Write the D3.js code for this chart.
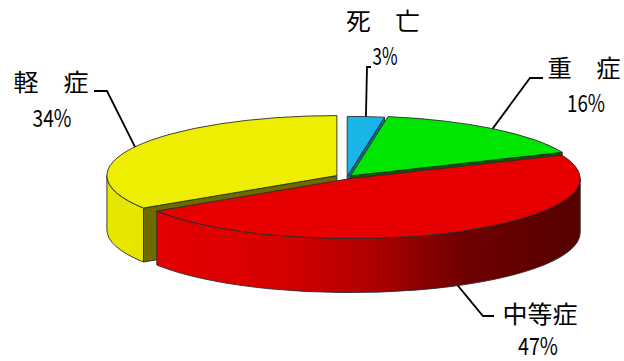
<!DOCTYPE html>
<html>
<head>
<meta charset="utf-8">
<script src="https://cdn.jsdelivr.net/npm/d3@7"></script>
<style>
body { margin: 0; background: #fff; }
</style>
</head>
<body>
<div id="chart"></div>
<script>
// data, clockwise from 12 o'clock
categories = ['死　亡', '重　症', '中等症', '軽　症'];
values = [2.6, 16.0, 47.3, 34.1];

// styles
topColors = ['#19b5e6', '#00e600', '#e80000', '#eeee00'];
faceColors = ['#0b6f8f', '#005c00', '#5a0000', '#6b6b00'];
explode = [0.01, 0.025, 0.03, 0.05];

// label layout: name center, percent center, leader elbow and end
labelLayout = [
    {nx: 383, ny: 30, nw: 74, px: 385, py: 65, pw: 25, elbow: [367, 67], end: [371, 67], bottom: false},
    {nx: 584, ny: 77, nw: 73, px: 586, py: 112, pw: 38, elbow: [530, 78], end: [543, 78], bottom: false},
    {nx: 540, ny: 323, nw: 75, px: 538, py: 355, pw: 40, elbow: [483, 316], end: [494, 316], bottom: true},
    {nx: 51, ny: 91, nw: 75, px: 52, py: 127, pw: 39, elbow: [107, 91], end: [94, 91], bottom: false}
];

width = 624;
height = 361;
pieGeom = ({cx: 347, cy: 177, rx: 230, ry: 60, depth: 54});

const svg = d3.select('#chart').append('svg')
    .attr('width', width)
    .attr('height', height)
    .style('background', '#fff');

const slices = d3.pie().sort(null).value(d => d.value)(
    categories.map((c, i) => ({name: c, value: values[i], i: i}))
);

// explode offset along the slice middle
slices.forEach(s => {
    const mid = (s.startAngle + s.endAngle) / 2;
    s.mid = mid;
    s.ox = explode[s.index] * pieGeom.rx * Math.sin(mid);
    s.oy = -explode[s.index] * pieGeom.ry * Math.cos(mid);
});

rim = function(s, a, h) {
    return [pieGeom.cx + s.ox + pieGeom.rx * Math.sin(a),
            pieGeom.cy + s.oy - pieGeom.ry * Math.cos(a) + h];
};

vertex = function(s, h) {
    return [pieGeom.cx + s.ox, pieGeom.cy + s.oy + h];
};

arcTo = function(s, a0, a1, h, sweep) {
    const p = rim(s, sweep ? a1 : a0, h);
    const large = Math.abs(a1 - a0) > Math.PI ? 1 : 0;
    return `A${pieGeom.rx},${pieGeom.ry} 0 ${large} ${sweep} ${p[0]},${p[1]}`;
};

topPath = function(s) {
    return `M${vertex(s, 0)} L${rim(s, s.startAngle, 0)} ` +
        arcTo(s, s.startAngle, s.endAngle, 0, 1) + ' Z';
};

sidePath = function(s) {
    const lo = Math.max(s.startAngle, Math.PI / 2);
    const hi = Math.min(s.endAngle, Math.PI * 3 / 2);
    if (lo >= hi) return null;
    return `M${rim(s, lo, 0)} ` + arcTo(s, lo, hi, 0, 1) +
        ` L${rim(s, hi, pieGeom.depth)} ` + arcTo(s, lo, hi, pieGeom.depth, 0) + ' Z';
};

facePath = function(s, a) {
    return `M${vertex(s, 0)} L${rim(s, a, 0)} L${rim(s, a, pieGeom.depth)} L${vertex(s, pieGeom.depth)} Z`;
};

// gradient for the red wall
const grad = svg.append('defs').append('linearGradient')
    .attr('id', 'redSide')
    .attr('gradientUnits', 'userSpaceOnUse')
    .attr('x1', pieGeom.cx - pieGeom.rx).attr('x2', pieGeom.cx + pieGeom.rx)
    .attr('y1', 0).attr('y2', 0);
[['0%', '#e80000'], ['35%', '#d80000'], ['55%', '#b00000'], ['75%', '#700000'], ['100%', '#560000']]
    .forEach(d => grad.append('stop').attr('offset', d[0]).attr('stop-color', d[1]));

const outline = g => g
    .attr('stroke', '#2b2b2b')
    .attr('stroke-width', 0.9)
    .attr('stroke-linejoin', 'round');

// radial walls that face the viewer
const faces = [];
slices.forEach(s => {
    if (Math.sin(s.startAngle) < -1e-6) faces.push({s: s, a: s.startAngle});
    if (Math.sin(s.endAngle) > 1e-6) faces.push({s: s, a: s.endAngle});
});
svg.append('g').call(outline)
    .selectAll('path')
    .data(faces)
    .join('path')
    .attr('d', d => facePath(d.s, d.a))
    .attr('fill', d => faceColors[d.s.index]);

// outer walls
svg.append('g').call(outline)
    .selectAll('path')
    .data(slices.filter(s => sidePath(s)))
    .join('path')
    .attr('d', sidePath)
    .attr('fill', s => s.index === 2 ? 'url(#redSide)' : d3.color(topColors[s.index]).darker(0.1));

// tops
svg.append('g').call(outline)
    .selectAll('path')
    .data(slices)
    .join('path')
    .attr('d', topPath)
    .attr('fill', s => topColors[s.index]);

// leader lines
svg.append('g')
    .attr('fill', 'none')
    .attr('stroke', '#000')
    .attr('stroke-width', 1.8)
    .selectAll('path')
    .data(slices)
    .join('path')
    .attr('d', s => {
        const l = labelLayout[s.index];
        const p = rim(s, s.mid, l.bottom ? pieGeom.depth : 0);
        return d3.line()([p, l.elbow, l.end]);
    });

// labels
const labels = svg.append('g')
    .attr('font-family', '"Noto Sans CJK JP", "Noto Sans", sans-serif')
    .attr('font-size', 24)
    .attr('fill', '#000')
    .attr('text-anchor', 'middle')
    .selectAll('g')
    .data(slices)
    .join('g');

labels.append('text')
    .attr('x', s => labelLayout[s.index].nx)
    .attr('y', s => labelLayout[s.index].ny)
    .attr('textLength', s => labelLayout[s.index].nw)
    .attr('lengthAdjust', 'spacingAndGlyphs')
    .text(s => s.data.name);

labels.append('text')
    .attr('x', s => labelLayout[s.index].px)
    .attr('y', s => labelLayout[s.index].py)
    .attr('textLength', s => labelLayout[s.index].pw)
    .attr('lengthAdjust', 'spacingAndGlyphs')
    .text(s => Math.round(s.data.value) + '%');
</script>
</body>
</html>
